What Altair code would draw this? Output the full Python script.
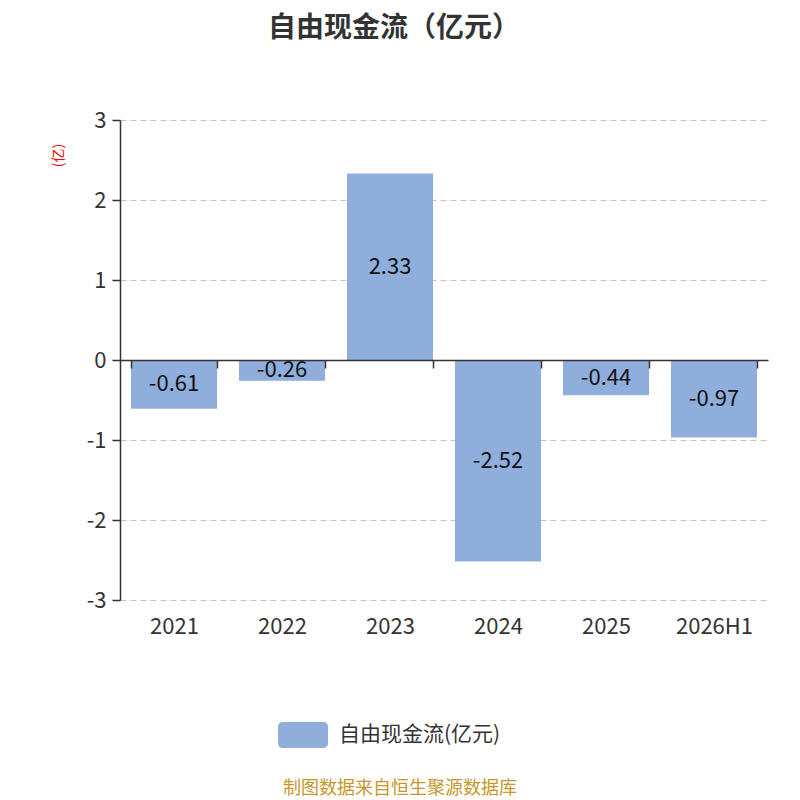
import altair as alt
import pandas as pd

categories = ["2021", "2022", "2023", "2024", "2025", "2026H1"]
values = [-0.61, -0.26, 2.33, -2.52, -0.44, -0.97]
labels = ["-0.61", "-0.26", "2.33", "-2.52", "-0.44", "-0.97"]
series_name = "自由现金流(亿元)"
title_text = "自由现金流（亿元）"
y_unit = "(亿)"
footer_text = "制图数据来自恒生聚源数据库"
y_ticks = [-3, -2, -1, 0, 1, 2, 3]

df = pd.DataFrame({
    "year": categories,
    "value": values,
    "label": labels,
    "series": [series_name] * len(categories),
})

FONT = "Noto Sans CJK SC"
BAR = "#8FAEDB"
AX = "#333333"

r = 0.2
h = 0.52
rect_path = (
    f"M{-1+r},{-h} L{1-r},{-h} Q1,{-h} 1,{-h+r} L1,{h-r} Q1,{h} {1-r},{h} "
    f"L{-1+r},{h} Q-1,{h} -1,{h-r} L-1,{-h+r} Q-1,{-h} {-1+r},{-h} Z"
)

x_enc = alt.X(
    "year:N", sort=categories,
    scale=alt.Scale(paddingInner=0.2, paddingOuter=0.1),
    axis=alt.Axis(
        title=None, orient="bottom", offset=-240, tickBand="extent",
        ticks=True, tickSize=8, tickColor=AX, tickWidth=1.5,
        domainColor=AX, domainWidth=1.5, labelPadding=248,
        labelFontSize=22, labelColor=AX, labelFont=FONT, labelAngle=0,
        zindex=1, grid=False,
    ),
)

y_enc = alt.Y(
    "value:Q",
    scale=alt.Scale(domain=[-3, 3], nice=False, zero=False),
    axis=alt.Axis(
        values=y_ticks, labelExpr="toString(datum.value)", title=y_unit,
        titleColor="red", titleFontSize=14, titleFontWeight="normal",
        titleFont=FONT, titleX=-62, titleY=35, titleAngle=-90,
        titleAlign="center", titleBaseline="middle",
        grid=True, gridDash=[6, 4], gridColor="#c4c4c4", gridWidth=1.2,
        tickSize=8, tickColor=AX, tickWidth=1.5,
        domainColor=AX, domainWidth=1.5,
        labelFontSize=22, labelColor=AX, labelFont=FONT, labelPadding=6,
    ),
)

base = alt.Chart(df)

bars = base.mark_bar(size=86).encode(
    x=x_enc,
    y=y_enc,
    color=alt.Color(
        "series:N",
        scale=alt.Scale(range=[BAR]),
        legend=alt.Legend(
            title=None, orient="none", legendX=158, legendY=590,
            direction="horizontal", symbolType=rect_path, symbolSize=2500,
            symbolStrokeWidth=0, labelFontSize=21, labelColor=AX,
            labelFont=FONT, labelOffset=11, labelLimit=400,
        ),
    ),
)

text = base.transform_calculate(mid="datum.value / 2").mark_text(
    fontSize=22, color="#111111", font=FONT, baseline="middle"
).encode(
    x=alt.X("year:N", sort=categories),
    y=alt.Y("mid:Q"),
    text="label:N",
)

footer = alt.Chart(pd.DataFrame({"t": [footer_text]})).mark_text(
    fontSize=18, color="#C8962A", font=FONT, baseline="middle", align="center"
).encode(
    text="t:N",
    x=alt.value(280),
    y=alt.value(669),
)

chart = alt.layer(bars, text, footer).properties(
    width=648,
    height=480,
    title=alt.TitleParams(
        text=title_text, fontSize=28, fontWeight="bold", color=AX,
        font=FONT, anchor="middle", dx=-50, offset=66,
    ),
    autosize=alt.AutoSizeParams(type="none"),
    padding={"left": 112, "top": 112, "right": 24, "bottom": 200},
).configure_view(stroke=None)

chart.save("out.html", embed_options={"renderer": "svg", "actions": False})
